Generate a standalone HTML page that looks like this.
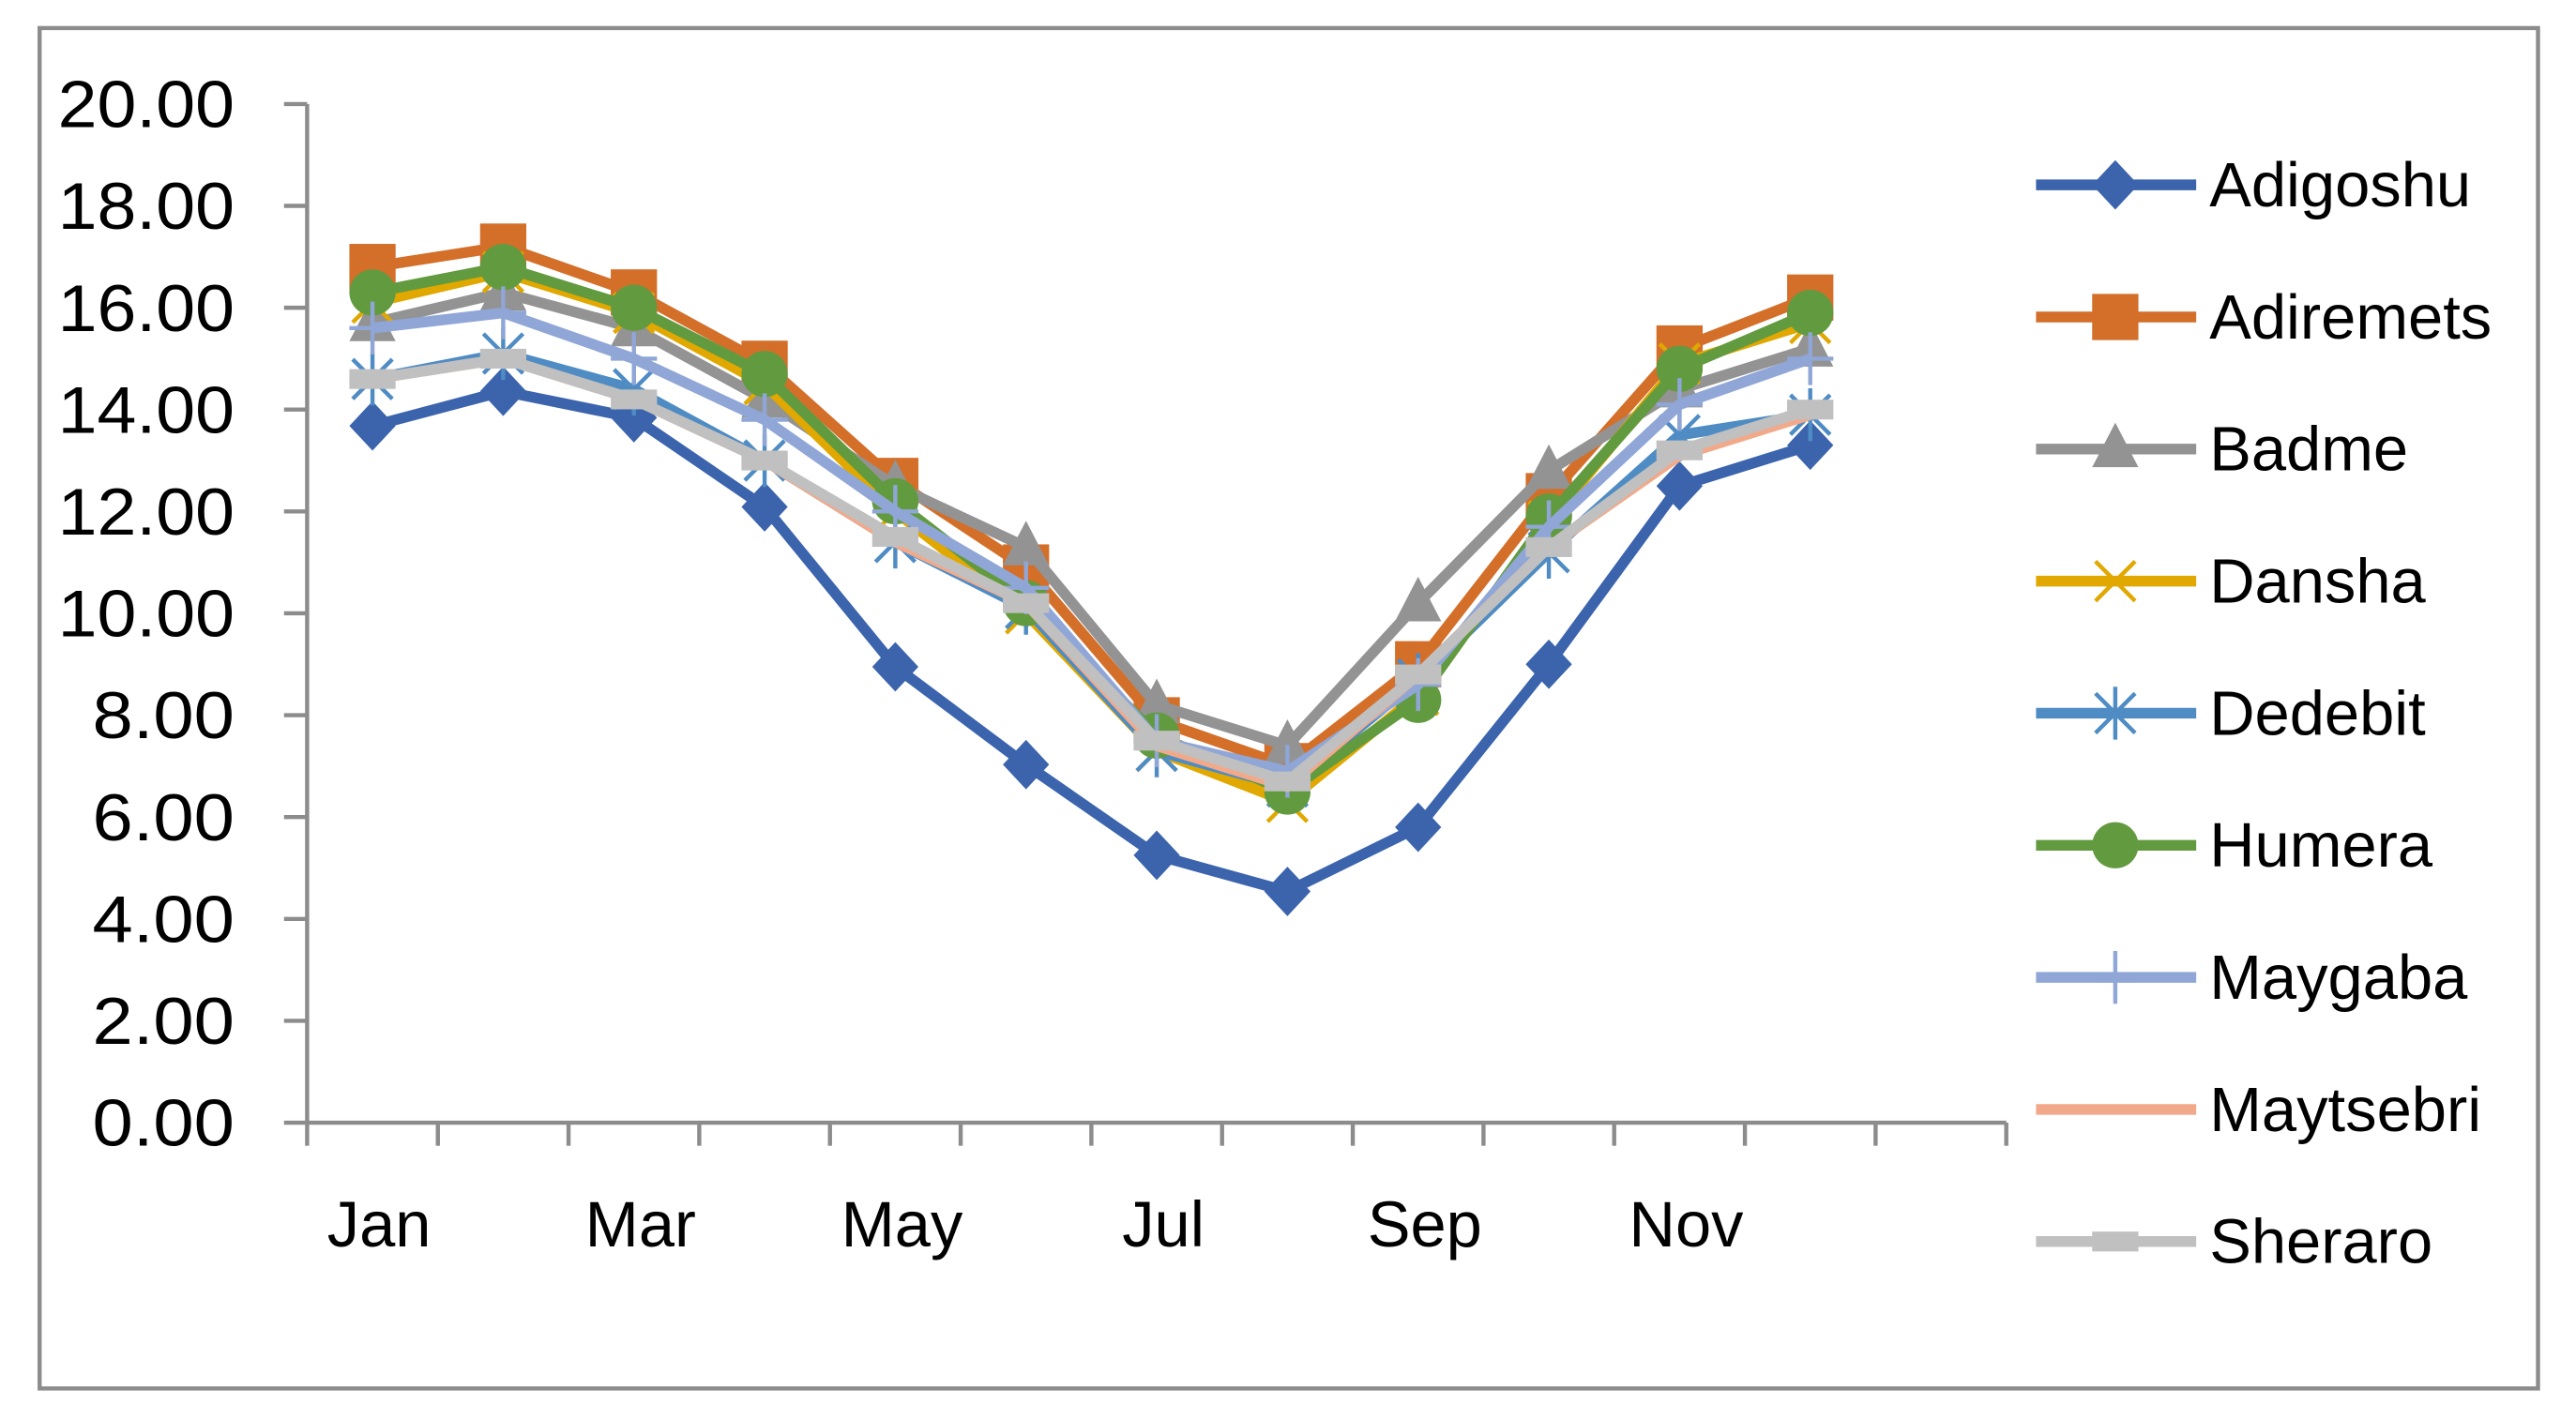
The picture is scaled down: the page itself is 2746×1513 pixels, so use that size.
<!DOCTYPE html>
<html><head><meta charset="utf-8"><style>
html,body{margin:0;padding:0;background:#fff;}
svg{display:block;font-family:"Liberation Sans",Calibri,sans-serif;}
</style></head><body>
<svg id="chart" width="2746" height="1513" viewBox="0 0 1560 859.5" preserveAspectRatio="none" xmlns="http://www.w3.org/2000/svg">
<rect x="24" y="17" width="1513" height="824" fill="#fff" stroke="#8c8c8c" stroke-width="2.5"/>
<g id="axes"></g><g id="series"></g><g id="legend"></g>
</svg>
<script>
const categories=["Jan","Feb","Mar","Apr","May","Jun","Jul","Aug","Sep","Oct","Nov","Dec"];
const yTicks=[0,2,4,6,8,10,12,14,16,18,20];
const xLabels=["Jan","","Mar","","May","","Jul","","Sep","","Nov","",""];
const seriesNames=["Adigoshu","Adiremets","Badme","Dansha","Dedebit","Humera","Maygaba","Maytsebri","Sheraro"];
const adigoshu=[13.68,14.36,13.84,12.09,8.95,7.03,5.25,4.54,5.8,9.0,12.5,13.3];
const adiremets=[16.8,17.2,16.3,14.9,12.6,10.9,7.9,7.0,9.0,12.3,15.2,16.2];
const badme=[15.7,16.3,15.6,14.2,12.5,11.3,8.2,7.4,10.2,12.8,14.4,15.2];
const dansha=[16.1,16.7,15.9,14.5,12.0,10.0,7.3,6.3,8.4,11.8,14.9,15.7];
const dedebit=[14.6,15.1,14.4,13.0,11.4,10.1,7.3,6.6,8.7,11.2,13.5,13.9];
const humera=[16.3,16.8,16.0,14.7,12.2,10.2,7.6,6.5,8.3,11.9,14.8,15.9];
const maygaba=[15.6,15.9,15.0,13.8,12.0,10.5,7.5,6.9,8.6,11.7,14.1,15.0];
const maytsebri=[14.6,15.0,14.2,13.0,11.4,10.2,7.4,6.6,8.8,11.3,13.1,13.9];
const sheraro=[14.6,15.0,14.2,13.0,11.5,10.2,7.5,6.7,8.8,11.3,13.2,14.0];
const allSeries=[adigoshu,adiremets,badme,dansha,dedebit,humera,maygaba,maytsebri,sheraro];
const colors=["#3b64ad","#d46f2a","#939393","#e0a800","#4f8cc4","#629a3f","#8fa6d6","#f2a98a","#c0c0c0"];
const markers=["diamond","square","triangle","x","star","circle","plus","none","dash"];

const NS="http://www.w3.org/2000/svg";
const X0=186,X1=1215,Y0=680,Y1=63,nSlots=13;
const slotW=(X1-X0)/nSlots;
function xPos(i){return X0+slotW*(i+0.5);}
function yPos(v){return Y0-(v/20)*(Y0-Y1);}
function mk(tag,attrs,parent){const e=document.createElementNS(NS,tag);for(const k in attrs)e.setAttribute(k,attrs[k]);parent.appendChild(e);return e;}
const axes=document.getElementById('axes');
let ya=mk('line',{x1:X0,y1:Y1,x2:X0,y2:Y0,stroke:'#8c8c8c','stroke-width':2.5},axes);


yTicks.forEach(v=>{
  const y=yPos(v);
  const t=mk('line',{x1:X0-14,y1:y,x2:X0,y2:y,stroke:'#8c8c8c','stroke-width':2.5},axes);
  
  
  const s=v.toFixed(2);
  const l=mk('text',{x:X0-44,y:y+14,'text-anchor':'end','font-size':40,fill:'#000',textLength:s.length>4?107:86,lengthAdjust:'spacingAndGlyphs'},axes);
  l.textContent=s;
  
  
});
let xa=mk('line',{x1:X0,y1:Y0,x2:X1,y2:Y0,stroke:'#8c8c8c','stroke-width':2.5},axes);


for(let i=0;i<=nSlots;i++){
  const x=X0+slotW*i;
  const t=mk('line',{x1:x,y1:Y0,x2:x,y2:Y0+14,stroke:'#8c8c8c','stroke-width':2.5},axes);
  
  
}
xLabels.forEach((s,i)=>{
  if(!s)return;
  const l=mk('text',{x:xPos(i)+4,y:755,'text-anchor':'middle','font-size':39,fill:'#000'},axes);
  l.textContent=s;
  
  
});
function marker(g,type,x,y,c){
  let e=null;
  if(type==='diamond')e=mk('polygon',{points:`${x},${y-15} ${x+14},${y} ${x},${y+15} ${x-14},${y}`,fill:c},g);
  else if(type==='square')e=mk('rect',{x:x-14,y:y-14,width:28,height:28,fill:c},g);
  else if(type==='triangle')e=mk('polygon',{points:`${x},${y-16} ${x+14},${y+11} ${x-14},${y+11}`,fill:c},g);
  else if(type==='circle')e=mk('circle',{cx:x,cy:y,r:14,fill:c},g);
  else if(type==='x')e=mk('path',{d:`M${x-12},${y-12}L${x+12},${y+12}M${x-12},${y+12}L${x+12},${y-12}`,stroke:c,'stroke-width':2.5,fill:'none'},g);
  else if(type==='star')e=mk('path',{d:`M${x-12},${y-12}L${x+12},${y+12}M${x-12},${y+12}L${x+12},${y-12}M${x},${y-16}L${x},${y+16}`,stroke:c,'stroke-width':2.5,fill:'none'},g);
  else if(type==='plus')e=mk('path',{d:`M${x},${y-16}L${x},${y+16}M${x-14},${y}L${x+14},${y}`,stroke:c,'stroke-width':2.5,fill:'none'},g);
  else if(type==='dash')e=mk('rect',{x:x-14,y:y-6,width:28,height:12,fill:c},g);
  if(e){}
}
const sg=document.getElementById('series');
allSeries.forEach((vals,s)=>{
  const g=mk('g',{},sg);
  
  
  const pts=vals.map((v,i)=>xPos(i)+','+yPos(v)).join(' ');
  const pl=mk('polyline',{points:pts,fill:'none',stroke:colors[s],'stroke-width':6.5,'stroke-linejoin':'round'},g);
  
  
  vals.forEach((v,i)=>marker(g,markers[s],xPos(i),yPos(v),colors[s]));
});
const lg=document.getElementById('legend');
seriesNames.forEach((n,s)=>{
  const y=112+80*s;
  const g=mk('g',{},lg);
  
  
  mk('line',{x1:1233,y1:y,x2:1330,y2:y,stroke:colors[s],'stroke-width':6.5},g);
  marker(g,markers[s],1281,y,colors[s]);
  const t=mk('text',{x:1338,y:y+13,'font-size':38,fill:'#000'},g);
  t.textContent=n;
  
  
});
</script>
</body></html>
